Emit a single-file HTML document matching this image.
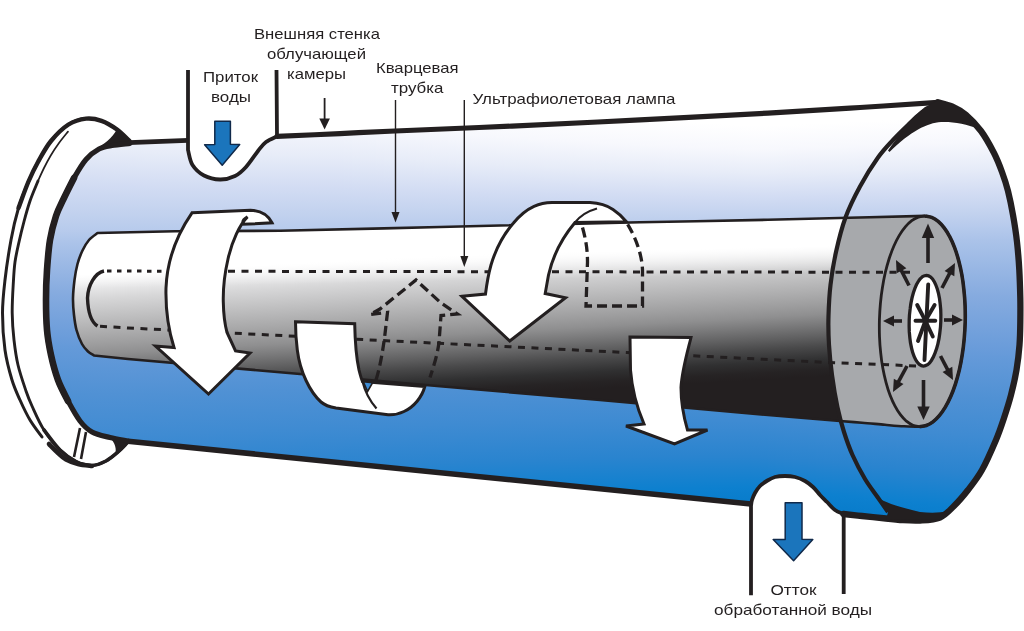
<!DOCTYPE html>
<html><head><meta charset="utf-8"><title>UV</title>
<style>html,body{margin:0;padding:0;background:#fff;}svg{display:block}</style></head>
<body><div style="will-change:transform;width:1024px;height:631px"><svg width="1024" height="631" viewBox="0 0 1024 631">
<defs>
<linearGradient id="gb" x1="0" y1="0" x2="0" y2="1">
<stop offset="0.0000" stop-color="#ffffff"/>
<stop offset="0.0400" stop-color="#ffffff"/>
<stop offset="0.1000" stop-color="#f7f8fd"/>
<stop offset="0.1600" stop-color="#e7ecf8"/>
<stop offset="0.2200" stop-color="#d2dcf3"/>
<stop offset="0.2700" stop-color="#c1d1ee"/>
<stop offset="0.3000" stop-color="#b6caec"/>
<stop offset="0.3300" stop-color="#abc3e9"/>
<stop offset="0.4600" stop-color="#86abdf"/>
<stop offset="0.5800" stop-color="#6a9cda"/>
<stop offset="0.6000" stop-color="#659ad9"/>
<stop offset="0.7000" stop-color="#5091d4"/>
<stop offset="0.7900" stop-color="#3f8bd2"/>
<stop offset="0.8800" stop-color="#2a84cf"/>
<stop offset="0.9600" stop-color="#0d80cf"/>
<stop offset="1.0000" stop-color="#087ccb"/>
</linearGradient>
<linearGradient id="gbt" x1="0" y1="0" x2="0" y2="1">
<stop offset="0.0000" stop-color="#ffffff"/>
<stop offset="0.1333" stop-color="#ffffff"/>
<stop offset="0.3333" stop-color="#f7f8fd"/>
<stop offset="0.5333" stop-color="#e7ecf8"/>
<stop offset="0.7333" stop-color="#d2dcf3"/>
<stop offset="0.9000" stop-color="#c1d1ee"/>
<stop offset="1.0000" stop-color="#b6caec"/>
</linearGradient>
<linearGradient id="gbm" x1="0" y1="0" x2="0" y2="1">
<stop offset="0.0000" stop-color="#b6caec"/>
<stop offset="0.1000" stop-color="#abc3e9"/>
<stop offset="0.5333" stop-color="#86abdf"/>
<stop offset="0.9333" stop-color="#6a9cda"/>
<stop offset="1.0000" stop-color="#659ad9"/>
</linearGradient>
<linearGradient id="gbb" x1="0" y1="0" x2="0" y2="1">
<stop offset="0.0000" stop-color="#659ad9"/>
<stop offset="0.2500" stop-color="#5091d4"/>
<stop offset="0.4750" stop-color="#3f8bd2"/>
<stop offset="0.7000" stop-color="#2a84cf"/>
<stop offset="0.9000" stop-color="#0d80cf"/>
<stop offset="1.0000" stop-color="#087ccb"/>
</linearGradient>
<linearGradient id="gw" gradientUnits="userSpaceOnUse" x1="97.5" y1="233" x2="98.77" y2="293">
<stop offset="0" stop-color="#fff" stop-opacity="1"/>
<stop offset="0.48" stop-color="#fff" stop-opacity="1"/>
<stop offset="0.92" stop-color="#fff" stop-opacity="0"/>
</linearGradient>
<clipPath id="cb"><path d="M130.0,143.3 L188.0,140.5 C188.0,142.1 187.2,145.9 188.0,150.0 C188.8,154.1 189.8,160.8 192.5,165.0 C195.2,169.2 199.4,173.1 204.0,175.5 C208.6,177.9 214.8,179.4 220.0,179.5 C225.2,179.6 230.7,178.1 235.0,176.0 C239.3,173.9 242.2,171.2 246.0,167.0 C249.8,162.8 254.7,155.2 258.0,151.0 C261.3,146.8 262.8,144.4 266.0,142.0 C269.2,139.6 275.2,137.2 277.0,136.3 C287.5,135.9 320.3,134.5 340.0,133.6 C359.7,132.7 366.3,132.2 395.0,131.0 C423.7,129.8 471.2,127.9 512.0,126.1 C552.8,124.2 597.3,122.1 640.0,119.9 C682.7,117.7 731.3,115.2 768.0,113.1 C804.7,111.0 831.7,109.3 860.0,107.5 C888.3,105.7 925.0,103.2 938.0,102.3 C940.3,103.0 947.3,104.4 952.0,106.5 C956.7,108.6 961.2,110.9 966.0,115.0 C970.8,119.1 976.3,124.7 981.0,131.0 C985.7,137.3 990.5,146.2 994.0,153.0 C997.5,159.8 999.7,165.7 1002.0,172.0 C1004.3,178.3 1006.2,183.8 1008.0,191.0 C1009.8,198.2 1011.5,206.5 1013.0,215.0 C1014.5,223.5 1016.0,232.8 1017.0,242.0 C1018.0,251.2 1018.8,260.7 1019.3,270.0 C1019.8,279.3 1020.1,289.3 1020.3,298.0 C1020.5,306.7 1020.4,314.2 1020.3,322.0 C1020.2,329.8 1020.1,337.0 1019.5,345.0 C1018.9,353.0 1017.9,361.7 1016.5,370.0 C1015.1,378.3 1013.1,387.0 1011.0,395.0 C1008.9,403.0 1006.5,410.5 1004.0,418.0 C1001.5,425.5 999.7,431.3 996.0,440.0 C992.3,448.7 986.7,461.7 982.0,470.0 C977.3,478.3 972.7,484.0 968.0,490.0 C963.3,496.0 958.7,501.4 954.0,506.0 C949.3,510.6 945.7,515.1 940.0,517.5 C934.3,519.9 926.7,520.1 920.0,520.5 C913.3,520.9 905.7,520.3 900.0,520.0 C894.3,519.7 892.3,519.2 886.0,518.5 C879.7,517.8 869.1,516.8 862.0,516.0 C854.9,515.2 846.6,514.3 843.5,514.0 C842.1,513.3 837.8,512.0 835.0,510.0 C832.2,508.0 829.5,504.5 827.0,502.0 C824.5,499.5 822.3,497.5 820.0,495.0 C817.7,492.5 815.5,489.3 813.0,487.0 C810.5,484.7 808.0,482.7 805.0,481.0 C802.0,479.3 798.3,477.8 795.0,477.0 C791.7,476.2 788.3,476.0 785.0,476.0 C781.7,476.0 777.9,476.2 775.0,477.0 C772.1,477.8 770.0,479.0 767.5,480.5 C765.0,482.0 762.1,483.9 760.0,486.0 C757.9,488.1 756.3,490.7 755.0,493.0 C753.7,495.3 752.7,497.8 752.0,500.0 C751.3,502.2 751.2,505.0 751.0,506.0 L751.0,503.5 L128.0,441.0 C125.0,440.4 116.0,439.0 110.0,437.5 C104.0,436.0 97.0,434.8 92.0,432.0 C87.0,429.2 84.0,426.2 80.0,421.0 C76.0,415.8 71.7,407.8 68.0,401.0 C64.3,394.2 60.8,387.7 58.0,380.0 C55.2,372.3 52.8,363.3 51.0,355.0 C49.2,346.7 47.8,339.2 47.0,330.0 C46.2,320.8 46.0,310.0 46.0,300.0 C46.0,290.0 46.3,280.0 47.0,270.0 C47.7,260.0 48.5,249.0 50.0,240.0 C51.5,231.0 53.8,222.8 56.0,216.0 C58.2,209.2 60.5,205.3 63.5,199.0 C66.5,192.7 70.2,184.6 74.0,178.0 C77.8,171.4 81.8,164.3 86.0,159.5 C90.2,154.7 94.7,151.3 99.0,149.0 C103.3,146.7 106.8,146.4 112.0,145.5 C117.2,144.6 127.0,143.7 130.0,143.3 Z"/></clipPath>
<linearGradient id="gt" gradientUnits="userSpaceOnUse" x1="500" y1="230" x2="511" y2="430">
<stop offset="0" stop-color="#ffffff"/>
<stop offset="0.110" stop-color="#ffffff"/>
<stop offset="0.169" stop-color="#e9e9ea"/>
<stop offset="0.229" stop-color="#d7d7d8"/>
<stop offset="0.289" stop-color="#c8c8c9"/>
<stop offset="0.349" stop-color="#b9b9ba"/>
<stop offset="0.409" stop-color="#aaaaab"/>
<stop offset="0.459" stop-color="#9d9d9e"/>
<stop offset="0.508" stop-color="#8f8f90"/>
<stop offset="0.558" stop-color="#7a7a7b"/>
<stop offset="0.618" stop-color="#606061"/>
<stop offset="0.668" stop-color="#49494a"/>
<stop offset="0.733" stop-color="#303031"/>
<stop offset="0.783" stop-color="#262324"/>
<stop offset="0.818" stop-color="#231f20"/>
<stop offset="1" stop-color="#231f20"/>
</linearGradient>
</defs>
<rect width="1024" height="631" fill="#fff"/>
<!-- flange -->
<path d="M129.5,141.0 C127.4,139.1 121.7,132.9 117.0,129.5 C112.3,126.1 106.7,122.6 101.5,120.8 C96.3,119.0 91.5,118.0 86.0,118.6 C80.5,119.2 74.3,120.8 68.5,124.5 C62.7,128.2 56.1,134.8 51.0,141.0 C45.9,147.2 41.8,155.2 38.0,162.0 C34.2,168.8 31.8,173.8 28.5,181.5 C25.2,189.2 21.4,198.2 18.5,208.0 C15.6,217.8 13.2,228.0 11.0,240.0 C8.8,252.0 6.4,267.8 5.0,280.0 C3.6,292.2 2.5,301.3 2.5,313.0 C2.5,324.7 3.4,338.8 5.0,350.0 C6.6,361.2 9.5,371.7 12.0,380.0 C14.5,388.3 17.0,393.3 20.0,400.0 C23.0,406.7 26.3,413.8 30.0,420.0 C33.7,426.2 40.0,434.2 42.0,437.0" fill="none" stroke="#231f20" stroke-width="3" stroke-linecap="round"/>
<path d="M129.5,141.0 C127.4,139.1 121.7,132.9 117.0,129.5 C112.3,126.1 106.7,122.6 101.5,120.8 C96.3,119.0 91.5,118.0 86.0,118.6 C80.5,119.2 74.3,120.8 68.5,124.5 C62.7,128.2 56.1,134.8 51.0,141.0 C45.9,147.2 41.8,155.2 38.0,162.0 C34.2,168.8 31.8,173.8 28.5,181.5 C25.2,189.2 20.2,203.6 18.5,208.0" fill="none" stroke="#231f20" stroke-width="4.4" stroke-linecap="round"/>
<path d="M68.0,131.6 C66.5,133.5 61.9,139.0 59.0,143.0 C56.1,147.0 53.1,151.5 50.6,155.7 C48.1,159.9 46.1,163.8 44.0,168.0 C41.9,172.2 39.0,178.8 38.0,181.0" fill="none" stroke="#231f20" stroke-width="1.7" stroke-linecap="round"/>
<path d="M38.0,181.0 C36.7,184.3 32.3,194.2 30.0,201.0 C27.7,207.8 25.8,214.7 24.0,221.5 C22.2,228.3 20.5,235.2 19.0,242.0 C17.5,248.8 16.0,254.8 15.0,262.0 C14.0,269.2 13.7,276.5 13.2,285.0 C12.7,293.5 12.1,303.8 12.2,313.0 C12.3,322.2 13.0,331.3 14.0,340.0 C15.0,348.7 16.0,356.5 18.0,365.0 C20.0,373.5 23.7,384.2 26.0,391.0 C28.3,397.8 29.0,399.5 32.0,406.0 C35.0,412.5 39.3,422.7 44.0,430.0 C48.7,437.3 54.7,444.8 60.0,450.0 C65.3,455.2 70.7,458.9 76.0,461.5 C81.3,464.1 87.0,465.6 92.0,465.5 C97.0,465.4 101.7,463.2 106.0,461.0 C110.3,458.8 114.5,455.0 118.0,452.0 C121.5,449.0 125.5,444.5 127.0,443.0" fill="none" stroke="#231f20" stroke-width="2.9" stroke-linecap="round"/>
<path d="M49.0,444.0 C50.5,445.5 55.2,450.4 58.0,453.0 C60.8,455.6 62.7,457.7 66.0,459.5 C69.3,461.3 73.7,462.9 78.0,464.0 C82.3,465.1 89.7,465.7 92.0,466.0" fill="none" stroke="#231f20" stroke-width="4.6" stroke-linecap="round"/>
<path d="M44.0,430.0 C46.7,433.3 54.7,444.8 60.0,450.0 C65.3,455.2 70.7,458.9 76.0,461.5 C81.3,464.1 87.0,465.6 92.0,465.5 C97.0,465.4 101.7,463.2 106.0,461.0 C110.3,458.8 114.5,455.0 118.0,452.0 C121.5,449.0 125.5,444.5 127.0,443.0" fill="none" stroke="#231f20" stroke-width="3.6" stroke-linecap="round"/>
<path d="M80,428 L74,457 M86,432 L81,459" stroke="#231f20" stroke-width="2.6" fill="none"/>
<path d="M117,129 L130,141 L130,144.5 L112,146.5 L96,149 C104,143.5 112,139 117,129 Z" fill="#231f20"/>
<path d="M110,437.5 L128,441 L124,447 C121,451 118,453 115,455 C117,449 115,443 110,437.5 Z" fill="#231f20"/>
<!-- body -->
<path d="M130.0,143.3 L188.0,140.5 C188.0,142.1 187.2,145.9 188.0,150.0 C188.8,154.1 189.8,160.8 192.5,165.0 C195.2,169.2 199.4,173.1 204.0,175.5 C208.6,177.9 214.8,179.4 220.0,179.5 C225.2,179.6 230.7,178.1 235.0,176.0 C239.3,173.9 242.2,171.2 246.0,167.0 C249.8,162.8 254.7,155.2 258.0,151.0 C261.3,146.8 262.8,144.4 266.0,142.0 C269.2,139.6 275.2,137.2 277.0,136.3 C287.5,135.9 320.3,134.5 340.0,133.6 C359.7,132.7 366.3,132.2 395.0,131.0 C423.7,129.8 471.2,127.9 512.0,126.1 C552.8,124.2 597.3,122.1 640.0,119.9 C682.7,117.7 731.3,115.2 768.0,113.1 C804.7,111.0 831.7,109.3 860.0,107.5 C888.3,105.7 925.0,103.2 938.0,102.3 C940.3,103.0 947.3,104.4 952.0,106.5 C956.7,108.6 961.2,110.9 966.0,115.0 C970.8,119.1 976.3,124.7 981.0,131.0 C985.7,137.3 990.5,146.2 994.0,153.0 C997.5,159.8 999.7,165.7 1002.0,172.0 C1004.3,178.3 1006.2,183.8 1008.0,191.0 C1009.8,198.2 1011.5,206.5 1013.0,215.0 C1014.5,223.5 1016.0,232.8 1017.0,242.0 C1018.0,251.2 1018.8,260.7 1019.3,270.0 C1019.8,279.3 1020.1,289.3 1020.3,298.0 C1020.5,306.7 1020.4,314.2 1020.3,322.0 C1020.2,329.8 1020.1,337.0 1019.5,345.0 C1018.9,353.0 1017.9,361.7 1016.5,370.0 C1015.1,378.3 1013.1,387.0 1011.0,395.0 C1008.9,403.0 1006.5,410.5 1004.0,418.0 C1001.5,425.5 999.7,431.3 996.0,440.0 C992.3,448.7 986.7,461.7 982.0,470.0 C977.3,478.3 972.7,484.0 968.0,490.0 C963.3,496.0 958.7,501.4 954.0,506.0 C949.3,510.6 945.7,515.1 940.0,517.5 C934.3,519.9 926.7,520.1 920.0,520.5 C913.3,520.9 905.7,520.3 900.0,520.0 C894.3,519.7 892.3,519.2 886.0,518.5 C879.7,517.8 869.1,516.8 862.0,516.0 C854.9,515.2 846.6,514.3 843.5,514.0 C842.1,513.3 837.8,512.0 835.0,510.0 C832.2,508.0 829.5,504.5 827.0,502.0 C824.5,499.5 822.3,497.5 820.0,495.0 C817.7,492.5 815.5,489.3 813.0,487.0 C810.5,484.7 808.0,482.7 805.0,481.0 C802.0,479.3 798.3,477.8 795.0,477.0 C791.7,476.2 788.3,476.0 785.0,476.0 C781.7,476.0 777.9,476.2 775.0,477.0 C772.1,477.8 770.0,479.0 767.5,480.5 C765.0,482.0 762.1,483.9 760.0,486.0 C757.9,488.1 756.3,490.7 755.0,493.0 C753.7,495.3 752.7,497.8 752.0,500.0 C751.3,502.2 751.2,505.0 751.0,506.0 L751.0,503.5 L128.0,441.0 C125.0,440.4 116.0,439.0 110.0,437.5 C104.0,436.0 97.0,434.8 92.0,432.0 C87.0,429.2 84.0,426.2 80.0,421.0 C76.0,415.8 71.7,407.8 68.0,401.0 C64.3,394.2 60.8,387.7 58.0,380.0 C55.2,372.3 52.8,363.3 51.0,355.0 C49.2,346.7 47.8,339.2 47.0,330.0 C46.2,320.8 46.0,310.0 46.0,300.0 C46.0,290.0 46.3,280.0 47.0,270.0 C47.7,260.0 48.5,249.0 50.0,240.0 C51.5,231.0 53.8,222.8 56.0,216.0 C58.2,209.2 60.5,205.3 63.5,199.0 C66.5,192.7 70.2,184.6 74.0,178.0 C77.8,171.4 81.8,164.3 86.0,159.5 C90.2,154.7 94.7,151.3 99.0,149.0 C103.3,146.7 106.8,146.4 112.0,145.5 C117.2,144.6 127.0,143.7 130.0,143.3 Z" fill="url(#gb)"/>
<g clip-path="url(#cb)" shape-rendering="crispEdges"><rect x="40" y="46.6" width="8" height="186.2" fill="url(#gbt)"/><rect x="40" y="232.2" width="8" height="112.6" fill="url(#gbm)"/><rect x="40" y="344.3" width="8" height="186.0" fill="url(#gbb)"/><rect x="48" y="47.9" width="8" height="184.9" fill="url(#gbt)"/><rect x="48" y="232.2" width="8" height="113.1" fill="url(#gbm)"/><rect x="48" y="344.7" width="8" height="186.8" fill="url(#gbb)"/><rect x="56" y="49.2" width="8" height="183.6" fill="url(#gbt)"/><rect x="56" y="232.2" width="8" height="113.6" fill="url(#gbm)"/><rect x="56" y="345.1" width="8" height="187.6" fill="url(#gbb)"/><rect x="64" y="50.4" width="8" height="182.3" fill="url(#gbt)"/><rect x="64" y="232.1" width="8" height="114.0" fill="url(#gbm)"/><rect x="64" y="345.5" width="8" height="188.4" fill="url(#gbb)"/><rect x="72" y="51.6" width="8" height="181.0" fill="url(#gbt)"/><rect x="72" y="232.1" width="8" height="114.5" fill="url(#gbm)"/><rect x="72" y="346.0" width="8" height="189.2" fill="url(#gbb)"/><rect x="80" y="52.8" width="8" height="179.8" fill="url(#gbt)"/><rect x="80" y="232.0" width="8" height="115.0" fill="url(#gbm)"/><rect x="80" y="346.4" width="8" height="190.0" fill="url(#gbb)"/><rect x="88" y="54.0" width="8" height="178.6" fill="url(#gbt)"/><rect x="88" y="232.0" width="8" height="115.4" fill="url(#gbm)"/><rect x="88" y="346.8" width="8" height="190.7" fill="url(#gbb)"/><rect x="96" y="55.1" width="8" height="177.4" fill="url(#gbt)"/><rect x="96" y="231.9" width="8" height="115.9" fill="url(#gbm)"/><rect x="96" y="347.2" width="8" height="190.5" fill="url(#gbb)"/><rect x="104" y="56.2" width="8" height="176.3" fill="url(#gbt)"/><rect x="104" y="231.9" width="8" height="116.4" fill="url(#gbm)"/><rect x="104" y="347.7" width="8" height="188.8" fill="url(#gbb)"/><rect x="112" y="57.3" width="8" height="175.1" fill="url(#gbt)"/><rect x="112" y="231.8" width="8" height="116.9" fill="url(#gbm)"/><rect x="112" y="348.1" width="8" height="187.0" fill="url(#gbb)"/><rect x="120" y="58.4" width="8" height="174.0" fill="url(#gbt)"/><rect x="120" y="231.8" width="8" height="117.3" fill="url(#gbm)"/><rect x="120" y="348.5" width="8" height="185.4" fill="url(#gbb)"/><rect x="128" y="59.4" width="8" height="172.9" fill="url(#gbt)"/><rect x="128" y="231.7" width="8" height="117.6" fill="url(#gbm)"/><rect x="128" y="348.8" width="8" height="184.0" fill="url(#gbb)"/><rect x="136" y="60.4" width="8" height="171.9" fill="url(#gbt)"/><rect x="136" y="231.7" width="8" height="117.5" fill="url(#gbm)"/><rect x="136" y="348.6" width="8" height="183.6" fill="url(#gbb)"/><rect x="144" y="61.4" width="8" height="170.8" fill="url(#gbt)"/><rect x="144" y="231.7" width="8" height="117.4" fill="url(#gbm)"/><rect x="144" y="348.4" width="8" height="183.2" fill="url(#gbb)"/><rect x="152" y="62.0" width="8" height="170.3" fill="url(#gbt)"/><rect x="152" y="231.6" width="8" height="117.2" fill="url(#gbm)"/><rect x="152" y="348.3" width="8" height="182.8" fill="url(#gbb)"/><rect x="160" y="62.3" width="8" height="169.8" fill="url(#gbt)"/><rect x="160" y="231.6" width="8" height="117.1" fill="url(#gbm)"/><rect x="160" y="348.1" width="8" height="182.4" fill="url(#gbb)"/><rect x="168" y="62.7" width="8" height="169.4" fill="url(#gbt)"/><rect x="168" y="231.5" width="8" height="117.0" fill="url(#gbm)"/><rect x="168" y="347.9" width="8" height="182.1" fill="url(#gbb)"/><rect x="176" y="63.1" width="8" height="169.0" fill="url(#gbt)"/><rect x="176" y="231.5" width="8" height="116.9" fill="url(#gbm)"/><rect x="176" y="347.7" width="8" height="181.7" fill="url(#gbb)"/><rect x="184" y="63.5" width="8" height="168.6" fill="url(#gbt)"/><rect x="184" y="231.4" width="8" height="116.7" fill="url(#gbm)"/><rect x="184" y="347.6" width="8" height="181.3" fill="url(#gbb)"/><rect x="192" y="63.8" width="8" height="168.1" fill="url(#gbt)"/><rect x="192" y="231.4" width="8" height="116.6" fill="url(#gbm)"/><rect x="192" y="347.4" width="8" height="181.0" fill="url(#gbb)"/><rect x="200" y="64.2" width="8" height="167.7" fill="url(#gbt)"/><rect x="200" y="231.3" width="8" height="116.5" fill="url(#gbm)"/><rect x="200" y="347.2" width="8" height="180.6" fill="url(#gbb)"/><rect x="208" y="64.6" width="8" height="167.3" fill="url(#gbt)"/><rect x="208" y="231.3" width="8" height="116.4" fill="url(#gbm)"/><rect x="208" y="347.1" width="8" height="180.3" fill="url(#gbb)"/><rect x="216" y="64.9" width="8" height="166.9" fill="url(#gbt)"/><rect x="216" y="231.3" width="8" height="116.2" fill="url(#gbm)"/><rect x="216" y="346.9" width="8" height="179.9" fill="url(#gbb)"/><rect x="224" y="65.3" width="8" height="166.5" fill="url(#gbt)"/><rect x="224" y="231.2" width="8" height="116.1" fill="url(#gbm)"/><rect x="224" y="346.7" width="8" height="179.6" fill="url(#gbb)"/><rect x="232" y="65.6" width="8" height="166.2" fill="url(#gbt)"/><rect x="232" y="231.2" width="8" height="116.0" fill="url(#gbm)"/><rect x="232" y="346.6" width="8" height="179.3" fill="url(#gbb)"/><rect x="240" y="66.0" width="8" height="165.8" fill="url(#gbt)"/><rect x="240" y="231.1" width="8" height="115.9" fill="url(#gbm)"/><rect x="240" y="346.4" width="8" height="178.9" fill="url(#gbb)"/><rect x="248" y="66.3" width="8" height="165.4" fill="url(#gbt)"/><rect x="248" y="231.1" width="8" height="115.8" fill="url(#gbm)"/><rect x="248" y="346.2" width="8" height="178.6" fill="url(#gbb)"/><rect x="256" y="66.6" width="8" height="165.0" fill="url(#gbt)"/><rect x="256" y="231.0" width="8" height="115.6" fill="url(#gbm)"/><rect x="256" y="346.1" width="8" height="178.3" fill="url(#gbb)"/><rect x="264" y="66.9" width="8" height="164.6" fill="url(#gbt)"/><rect x="264" y="231.0" width="8" height="115.5" fill="url(#gbm)"/><rect x="264" y="345.9" width="8" height="178.0" fill="url(#gbb)"/><rect x="272" y="67.3" width="8" height="164.3" fill="url(#gbt)"/><rect x="272" y="230.9" width="8" height="115.4" fill="url(#gbm)"/><rect x="272" y="345.8" width="8" height="177.7" fill="url(#gbb)"/><rect x="280" y="67.6" width="8" height="163.9" fill="url(#gbt)"/><rect x="280" y="230.9" width="8" height="115.3" fill="url(#gbm)"/><rect x="280" y="345.6" width="8" height="177.4" fill="url(#gbb)"/><rect x="288" y="67.9" width="8" height="163.6" fill="url(#gbt)"/><rect x="288" y="230.9" width="8" height="115.2" fill="url(#gbm)"/><rect x="288" y="345.4" width="8" height="177.1" fill="url(#gbb)"/><rect x="296" y="68.2" width="8" height="163.2" fill="url(#gbt)"/><rect x="296" y="230.8" width="8" height="115.1" fill="url(#gbm)"/><rect x="296" y="345.3" width="8" height="176.8" fill="url(#gbb)"/><rect x="304" y="68.5" width="8" height="162.9" fill="url(#gbt)"/><rect x="304" y="230.8" width="8" height="115.0" fill="url(#gbm)"/><rect x="304" y="345.1" width="8" height="176.5" fill="url(#gbb)"/><rect x="312" y="68.8" width="8" height="162.5" fill="url(#gbt)"/><rect x="312" y="230.7" width="8" height="114.9" fill="url(#gbm)"/><rect x="312" y="345.0" width="8" height="176.2" fill="url(#gbb)"/><rect x="320" y="69.1" width="8" height="162.2" fill="url(#gbt)"/><rect x="320" y="230.7" width="8" height="114.7" fill="url(#gbm)"/><rect x="320" y="344.8" width="8" height="176.0" fill="url(#gbb)"/><rect x="328" y="69.4" width="8" height="161.8" fill="url(#gbt)"/><rect x="328" y="230.6" width="8" height="114.6" fill="url(#gbm)"/><rect x="328" y="344.7" width="8" height="175.7" fill="url(#gbb)"/><rect x="336" y="69.7" width="8" height="161.5" fill="url(#gbt)"/><rect x="336" y="230.6" width="8" height="114.5" fill="url(#gbm)"/><rect x="336" y="344.5" width="8" height="175.4" fill="url(#gbb)"/><rect x="344" y="70.9" width="8" height="160.2" fill="url(#gbt)"/><rect x="344" y="230.5" width="8" height="114.4" fill="url(#gbm)"/><rect x="344" y="344.4" width="8" height="175.1" fill="url(#gbb)"/><rect x="352" y="72.2" width="8" height="158.9" fill="url(#gbt)"/><rect x="352" y="230.5" width="8" height="114.3" fill="url(#gbm)"/><rect x="352" y="344.2" width="8" height="174.9" fill="url(#gbb)"/><rect x="360" y="73.4" width="8" height="157.7" fill="url(#gbt)"/><rect x="360" y="230.4" width="8" height="114.2" fill="url(#gbm)"/><rect x="360" y="344.1" width="8" height="174.6" fill="url(#gbb)"/><rect x="368" y="74.5" width="8" height="156.5" fill="url(#gbt)"/><rect x="368" y="230.4" width="8" height="114.1" fill="url(#gbm)"/><rect x="368" y="343.9" width="8" height="174.4" fill="url(#gbb)"/><rect x="376" y="75.7" width="8" height="155.3" fill="url(#gbt)"/><rect x="376" y="230.4" width="8" height="114.0" fill="url(#gbm)"/><rect x="376" y="343.8" width="8" height="174.1" fill="url(#gbb)"/><rect x="384" y="76.8" width="8" height="154.1" fill="url(#gbt)"/><rect x="384" y="230.3" width="8" height="113.9" fill="url(#gbm)"/><rect x="384" y="343.6" width="8" height="173.9" fill="url(#gbb)"/><rect x="392" y="77.9" width="8" height="153.0" fill="url(#gbt)"/><rect x="392" y="230.3" width="8" height="113.8" fill="url(#gbm)"/><rect x="392" y="343.5" width="8" height="173.6" fill="url(#gbb)"/><rect x="400" y="79.0" width="8" height="151.9" fill="url(#gbt)"/><rect x="400" y="230.2" width="8" height="113.7" fill="url(#gbm)"/><rect x="400" y="343.3" width="8" height="173.4" fill="url(#gbb)"/><rect x="408" y="80.0" width="8" height="150.8" fill="url(#gbt)"/><rect x="408" y="230.2" width="8" height="113.6" fill="url(#gbm)"/><rect x="408" y="343.2" width="8" height="173.1" fill="url(#gbb)"/><rect x="416" y="81.0" width="8" height="149.7" fill="url(#gbt)"/><rect x="416" y="230.1" width="8" height="113.5" fill="url(#gbm)"/><rect x="416" y="343.1" width="8" height="172.9" fill="url(#gbb)"/><rect x="424" y="82.0" width="8" height="148.7" fill="url(#gbt)"/><rect x="424" y="230.1" width="8" height="113.4" fill="url(#gbm)"/><rect x="424" y="342.9" width="8" height="172.6" fill="url(#gbb)"/><rect x="432" y="83.0" width="8" height="147.6" fill="url(#gbt)"/><rect x="432" y="230.0" width="8" height="113.3" fill="url(#gbm)"/><rect x="432" y="342.8" width="8" height="172.4" fill="url(#gbb)"/><rect x="440" y="84.0" width="8" height="146.6" fill="url(#gbt)"/><rect x="440" y="230.0" width="8" height="113.2" fill="url(#gbm)"/><rect x="440" y="342.6" width="8" height="172.2" fill="url(#gbb)"/><rect x="448" y="84.9" width="8" height="145.7" fill="url(#gbt)"/><rect x="448" y="230.0" width="8" height="113.1" fill="url(#gbm)"/><rect x="448" y="342.5" width="8" height="172.0" fill="url(#gbb)"/><rect x="456" y="85.8" width="8" height="144.7" fill="url(#gbt)"/><rect x="456" y="229.9" width="8" height="113.1" fill="url(#gbm)"/><rect x="456" y="342.4" width="8" height="171.7" fill="url(#gbb)"/><rect x="464" y="86.7" width="8" height="143.8" fill="url(#gbt)"/><rect x="464" y="229.9" width="8" height="113.0" fill="url(#gbm)"/><rect x="464" y="342.2" width="8" height="171.5" fill="url(#gbb)"/><rect x="472" y="87.6" width="8" height="142.8" fill="url(#gbt)"/><rect x="472" y="229.8" width="8" height="112.9" fill="url(#gbm)"/><rect x="472" y="342.1" width="8" height="171.3" fill="url(#gbb)"/><rect x="480" y="88.5" width="8" height="141.9" fill="url(#gbt)"/><rect x="480" y="229.8" width="8" height="112.8" fill="url(#gbm)"/><rect x="480" y="342.0" width="8" height="171.1" fill="url(#gbb)"/><rect x="488" y="89.3" width="8" height="141.0" fill="url(#gbt)"/><rect x="488" y="229.7" width="8" height="112.7" fill="url(#gbm)"/><rect x="488" y="341.8" width="8" height="170.9" fill="url(#gbb)"/><rect x="496" y="90.1" width="8" height="140.2" fill="url(#gbt)"/><rect x="496" y="229.7" width="8" height="112.6" fill="url(#gbm)"/><rect x="496" y="341.7" width="8" height="170.7" fill="url(#gbb)"/><rect x="504" y="90.9" width="8" height="139.3" fill="url(#gbt)"/><rect x="504" y="229.6" width="8" height="112.5" fill="url(#gbm)"/><rect x="504" y="341.6" width="8" height="170.5" fill="url(#gbb)"/><rect x="512" y="91.7" width="8" height="138.5" fill="url(#gbt)"/><rect x="512" y="229.6" width="8" height="112.4" fill="url(#gbm)"/><rect x="512" y="341.4" width="8" height="170.2" fill="url(#gbb)"/><rect x="520" y="92.5" width="8" height="137.6" fill="url(#gbt)"/><rect x="520" y="229.5" width="8" height="112.3" fill="url(#gbm)"/><rect x="520" y="341.3" width="8" height="170.0" fill="url(#gbb)"/><rect x="528" y="93.3" width="8" height="136.8" fill="url(#gbt)"/><rect x="528" y="229.5" width="8" height="112.3" fill="url(#gbm)"/><rect x="528" y="341.2" width="8" height="169.8" fill="url(#gbb)"/><rect x="536" y="94.0" width="8" height="136.0" fill="url(#gbt)"/><rect x="536" y="229.5" width="8" height="112.2" fill="url(#gbm)"/><rect x="536" y="341.0" width="8" height="169.6" fill="url(#gbb)"/><rect x="544" y="94.8" width="8" height="135.3" fill="url(#gbt)"/><rect x="544" y="229.4" width="8" height="112.1" fill="url(#gbm)"/><rect x="544" y="340.9" width="8" height="169.4" fill="url(#gbb)"/><rect x="552" y="95.5" width="8" height="134.5" fill="url(#gbt)"/><rect x="552" y="229.4" width="8" height="112.0" fill="url(#gbm)"/><rect x="552" y="340.8" width="8" height="169.3" fill="url(#gbb)"/><rect x="560" y="96.2" width="8" height="133.7" fill="url(#gbt)"/><rect x="560" y="229.3" width="8" height="111.9" fill="url(#gbm)"/><rect x="560" y="340.6" width="8" height="169.1" fill="url(#gbb)"/><rect x="568" y="96.9" width="8" height="133.0" fill="url(#gbt)"/><rect x="568" y="229.3" width="8" height="111.8" fill="url(#gbm)"/><rect x="568" y="340.5" width="8" height="168.9" fill="url(#gbb)"/><rect x="576" y="97.6" width="8" height="132.3" fill="url(#gbt)"/><rect x="576" y="229.2" width="8" height="111.8" fill="url(#gbm)"/><rect x="576" y="340.4" width="8" height="168.7" fill="url(#gbb)"/><rect x="584" y="98.2" width="8" height="131.6" fill="url(#gbt)"/><rect x="584" y="229.2" width="8" height="111.7" fill="url(#gbm)"/><rect x="584" y="340.3" width="8" height="168.5" fill="url(#gbb)"/><rect x="592" y="98.9" width="8" height="130.9" fill="url(#gbt)"/><rect x="592" y="229.1" width="8" height="111.6" fill="url(#gbm)"/><rect x="592" y="340.1" width="8" height="168.3" fill="url(#gbb)"/><rect x="600" y="99.5" width="8" height="130.2" fill="url(#gbt)"/><rect x="600" y="229.1" width="8" height="111.7" fill="url(#gbm)"/><rect x="600" y="340.2" width="8" height="167.9" fill="url(#gbb)"/><rect x="608" y="100.2" width="8" height="129.5" fill="url(#gbt)"/><rect x="608" y="229.1" width="8" height="112.1" fill="url(#gbm)"/><rect x="608" y="340.5" width="8" height="167.2" fill="url(#gbb)"/><rect x="616" y="100.8" width="8" height="128.8" fill="url(#gbt)"/><rect x="616" y="229.0" width="8" height="112.5" fill="url(#gbm)"/><rect x="616" y="340.9" width="8" height="166.5" fill="url(#gbb)"/><rect x="624" y="101.4" width="8" height="128.2" fill="url(#gbt)"/><rect x="624" y="229.0" width="8" height="112.8" fill="url(#gbm)"/><rect x="624" y="341.2" width="8" height="165.9" fill="url(#gbb)"/><rect x="632" y="102.0" width="8" height="127.5" fill="url(#gbt)"/><rect x="632" y="228.9" width="8" height="113.2" fill="url(#gbm)"/><rect x="632" y="341.5" width="8" height="165.2" fill="url(#gbb)"/><rect x="640" y="102.6" width="8" height="126.9" fill="url(#gbt)"/><rect x="640" y="228.9" width="8" height="113.5" fill="url(#gbm)"/><rect x="640" y="341.8" width="8" height="164.6" fill="url(#gbb)"/><rect x="648" y="103.1" width="8" height="126.3" fill="url(#gbt)"/><rect x="648" y="228.8" width="8" height="113.9" fill="url(#gbm)"/><rect x="648" y="342.1" width="8" height="164.0" fill="url(#gbb)"/><rect x="656" y="103.7" width="8" height="125.7" fill="url(#gbt)"/><rect x="656" y="228.8" width="8" height="114.3" fill="url(#gbm)"/><rect x="656" y="342.4" width="8" height="163.4" fill="url(#gbb)"/><rect x="664" y="104.3" width="8" height="125.1" fill="url(#gbt)"/><rect x="664" y="228.7" width="8" height="114.6" fill="url(#gbm)"/><rect x="664" y="342.8" width="8" height="162.8" fill="url(#gbb)"/><rect x="672" y="104.8" width="8" height="124.5" fill="url(#gbt)"/><rect x="672" y="228.7" width="8" height="115.0" fill="url(#gbm)"/><rect x="672" y="343.1" width="8" height="162.2" fill="url(#gbb)"/><rect x="680" y="105.4" width="8" height="123.9" fill="url(#gbt)"/><rect x="680" y="228.7" width="8" height="115.3" fill="url(#gbm)"/><rect x="680" y="343.4" width="8" height="161.6" fill="url(#gbb)"/><rect x="688" y="105.9" width="8" height="123.3" fill="url(#gbt)"/><rect x="688" y="228.6" width="8" height="115.7" fill="url(#gbm)"/><rect x="688" y="343.7" width="8" height="161.0" fill="url(#gbb)"/><rect x="696" y="106.4" width="8" height="122.8" fill="url(#gbt)"/><rect x="696" y="228.6" width="8" height="116.1" fill="url(#gbm)"/><rect x="696" y="344.0" width="8" height="160.4" fill="url(#gbb)"/><rect x="704" y="106.9" width="8" height="122.2" fill="url(#gbt)"/><rect x="704" y="228.5" width="8" height="116.4" fill="url(#gbm)"/><rect x="704" y="344.3" width="8" height="159.8" fill="url(#gbb)"/><rect x="712" y="107.4" width="8" height="121.6" fill="url(#gbt)"/><rect x="712" y="228.5" width="8" height="116.8" fill="url(#gbm)"/><rect x="712" y="344.7" width="8" height="159.3" fill="url(#gbb)"/><rect x="720" y="107.9" width="8" height="121.1" fill="url(#gbt)"/><rect x="720" y="228.4" width="8" height="117.1" fill="url(#gbm)"/><rect x="720" y="345.0" width="8" height="158.7" fill="url(#gbb)"/><rect x="728" y="108.4" width="8" height="120.6" fill="url(#gbt)"/><rect x="728" y="228.4" width="8" height="117.5" fill="url(#gbm)"/><rect x="728" y="345.3" width="8" height="158.2" fill="url(#gbb)"/><rect x="736" y="108.9" width="8" height="120.0" fill="url(#gbt)"/><rect x="736" y="228.3" width="8" height="117.9" fill="url(#gbm)"/><rect x="736" y="345.6" width="8" height="157.6" fill="url(#gbb)"/><rect x="744" y="109.4" width="8" height="119.5" fill="url(#gbt)"/><rect x="744" y="228.3" width="8" height="118.2" fill="url(#gbm)"/><rect x="744" y="345.9" width="8" height="157.1" fill="url(#gbb)"/><rect x="752" y="109.8" width="8" height="119.0" fill="url(#gbt)"/><rect x="752" y="228.2" width="8" height="118.6" fill="url(#gbm)"/><rect x="752" y="346.2" width="8" height="157.3" fill="url(#gbb)"/><rect x="760" y="109.9" width="8" height="118.9" fill="url(#gbt)"/><rect x="760" y="228.2" width="8" height="118.9" fill="url(#gbm)"/><rect x="760" y="346.5" width="8" height="157.8" fill="url(#gbb)"/><rect x="768" y="109.5" width="8" height="119.3" fill="url(#gbt)"/><rect x="768" y="228.2" width="8" height="119.3" fill="url(#gbm)"/><rect x="768" y="346.9" width="8" height="158.3" fill="url(#gbb)"/><rect x="776" y="109.0" width="8" height="119.7" fill="url(#gbt)"/><rect x="776" y="228.1" width="8" height="119.7" fill="url(#gbm)"/><rect x="776" y="347.2" width="8" height="158.8" fill="url(#gbb)"/><rect x="784" y="108.6" width="8" height="120.0" fill="url(#gbt)"/><rect x="784" y="228.1" width="8" height="120.0" fill="url(#gbm)"/><rect x="784" y="347.5" width="8" height="159.2" fill="url(#gbb)"/><rect x="792" y="108.2" width="8" height="120.4" fill="url(#gbt)"/><rect x="792" y="228.0" width="8" height="120.4" fill="url(#gbm)"/><rect x="792" y="347.8" width="8" height="159.7" fill="url(#gbb)"/><rect x="800" y="107.8" width="8" height="120.8" fill="url(#gbt)"/><rect x="800" y="228.0" width="8" height="120.8" fill="url(#gbm)"/><rect x="800" y="348.1" width="8" height="160.2" fill="url(#gbb)"/><rect x="808" y="107.4" width="8" height="121.1" fill="url(#gbt)"/><rect x="808" y="227.9" width="8" height="121.1" fill="url(#gbm)"/><rect x="808" y="348.4" width="8" height="160.7" fill="url(#gbb)"/><rect x="816" y="107.0" width="8" height="121.5" fill="url(#gbt)"/><rect x="816" y="227.9" width="8" height="121.5" fill="url(#gbm)"/><rect x="816" y="348.8" width="8" height="161.2" fill="url(#gbb)"/><rect x="824" y="106.6" width="8" height="121.8" fill="url(#gbt)"/><rect x="824" y="227.8" width="8" height="121.8" fill="url(#gbm)"/><rect x="824" y="349.1" width="8" height="161.6" fill="url(#gbb)"/><rect x="832" y="106.2" width="8" height="122.2" fill="url(#gbt)"/><rect x="832" y="227.8" width="8" height="122.2" fill="url(#gbm)"/><rect x="832" y="349.4" width="8" height="162.1" fill="url(#gbb)"/><rect x="840" y="105.8" width="8" height="122.6" fill="url(#gbt)"/><rect x="840" y="227.8" width="8" height="122.6" fill="url(#gbm)"/><rect x="840" y="349.7" width="8" height="162.6" fill="url(#gbb)"/><rect x="848" y="105.4" width="8" height="122.9" fill="url(#gbt)"/><rect x="848" y="227.7" width="8" height="122.9" fill="url(#gbm)"/><rect x="848" y="350.0" width="8" height="163.1" fill="url(#gbb)"/><rect x="856" y="105.0" width="8" height="123.3" fill="url(#gbt)"/><rect x="856" y="227.7" width="8" height="123.3" fill="url(#gbm)"/><rect x="856" y="350.3" width="8" height="163.6" fill="url(#gbb)"/><rect x="864" y="104.6" width="8" height="123.6" fill="url(#gbt)"/><rect x="864" y="227.6" width="8" height="123.6" fill="url(#gbm)"/><rect x="864" y="350.7" width="8" height="164.0" fill="url(#gbb)"/><rect x="872" y="104.2" width="8" height="124.0" fill="url(#gbt)"/><rect x="872" y="227.6" width="8" height="124.0" fill="url(#gbm)"/><rect x="872" y="351.0" width="8" height="164.5" fill="url(#gbb)"/><rect x="880" y="103.8" width="8" height="124.4" fill="url(#gbt)"/><rect x="880" y="227.5" width="8" height="124.4" fill="url(#gbm)"/><rect x="880" y="351.3" width="8" height="165.0" fill="url(#gbb)"/><rect x="888" y="103.4" width="8" height="124.7" fill="url(#gbt)"/><rect x="888" y="227.5" width="8" height="124.7" fill="url(#gbm)"/><rect x="888" y="351.6" width="8" height="165.5" fill="url(#gbb)"/><rect x="896" y="103.0" width="8" height="125.1" fill="url(#gbt)"/><rect x="896" y="227.4" width="8" height="125.1" fill="url(#gbm)"/><rect x="896" y="351.9" width="8" height="166.0" fill="url(#gbb)"/><rect x="904" y="102.6" width="8" height="125.4" fill="url(#gbt)"/><rect x="904" y="227.4" width="8" height="125.4" fill="url(#gbm)"/><rect x="904" y="352.2" width="8" height="166.5" fill="url(#gbb)"/><rect x="912" y="102.1" width="8" height="125.8" fill="url(#gbt)"/><rect x="912" y="227.4" width="8" height="125.8" fill="url(#gbm)"/><rect x="912" y="352.6" width="8" height="166.9" fill="url(#gbb)"/><rect x="920" y="101.7" width="8" height="126.2" fill="url(#gbt)"/><rect x="920" y="227.3" width="8" height="126.2" fill="url(#gbm)"/><rect x="920" y="352.9" width="8" height="167.4" fill="url(#gbb)"/><rect x="928" y="101.3" width="8" height="126.5" fill="url(#gbt)"/><rect x="928" y="227.3" width="8" height="126.5" fill="url(#gbm)"/><rect x="928" y="353.2" width="8" height="167.9" fill="url(#gbb)"/><rect x="936" y="100.9" width="8" height="126.9" fill="url(#gbt)"/><rect x="936" y="227.2" width="8" height="126.9" fill="url(#gbm)"/><rect x="936" y="353.5" width="8" height="168.4" fill="url(#gbb)"/><rect x="944" y="100.5" width="8" height="127.2" fill="url(#gbt)"/><rect x="944" y="227.2" width="8" height="127.2" fill="url(#gbm)"/><rect x="944" y="353.8" width="8" height="168.9" fill="url(#gbb)"/><rect x="952" y="100.1" width="8" height="127.6" fill="url(#gbt)"/><rect x="952" y="227.1" width="8" height="127.6" fill="url(#gbm)"/><rect x="952" y="354.1" width="8" height="169.3" fill="url(#gbb)"/><rect x="960" y="99.7" width="8" height="128.0" fill="url(#gbt)"/><rect x="960" y="227.1" width="8" height="128.0" fill="url(#gbm)"/><rect x="960" y="354.4" width="8" height="169.8" fill="url(#gbb)"/><rect x="968" y="99.3" width="8" height="128.3" fill="url(#gbt)"/><rect x="968" y="227.0" width="8" height="128.3" fill="url(#gbm)"/><rect x="968" y="354.8" width="8" height="170.3" fill="url(#gbb)"/><rect x="976" y="98.9" width="8" height="128.7" fill="url(#gbt)"/><rect x="976" y="227.0" width="8" height="128.7" fill="url(#gbm)"/><rect x="976" y="355.1" width="8" height="170.8" fill="url(#gbb)"/><rect x="984" y="98.5" width="8" height="129.0" fill="url(#gbt)"/><rect x="984" y="226.9" width="8" height="129.0" fill="url(#gbm)"/><rect x="984" y="355.4" width="8" height="171.3" fill="url(#gbb)"/><rect x="992" y="98.1" width="8" height="129.4" fill="url(#gbt)"/><rect x="992" y="226.9" width="8" height="129.4" fill="url(#gbm)"/><rect x="992" y="355.7" width="8" height="171.7" fill="url(#gbb)"/><rect x="1000" y="97.7" width="8" height="129.8" fill="url(#gbt)"/><rect x="1000" y="226.9" width="8" height="129.8" fill="url(#gbm)"/><rect x="1000" y="356.0" width="8" height="172.2" fill="url(#gbb)"/><rect x="1008" y="97.3" width="8" height="130.1" fill="url(#gbt)"/><rect x="1008" y="226.8" width="8" height="130.1" fill="url(#gbm)"/><rect x="1008" y="356.3" width="8" height="172.7" fill="url(#gbb)"/><rect x="1016" y="96.9" width="8" height="130.5" fill="url(#gbt)"/><rect x="1016" y="226.8" width="8" height="130.5" fill="url(#gbm)"/><rect x="1016" y="356.7" width="8" height="173.2" fill="url(#gbb)"/></g>
<!-- inlet pipe interior white + walls -->
<path d="M188,70 L188,150 C188.8,152.5 189.8,160.8 192.5,165.0 C195.2,169.2 199.4,173.1 204.0,175.5 C208.6,177.9 214.8,179.4 220.0,179.5 C225.2,179.6 230.7,178.1 235.0,176.0 C239.3,173.9 242.2,171.2 246.0,167.0 C249.8,162.8 254.7,155.2 258.0,151.0 C261.3,146.8 262.8,144.4 266.0,142.0 C269.2,139.6 275.2,137.2 277.0,136.3 L276.5,70" fill="none" stroke="#231f20" stroke-width="3.8"/>
<path d="M843.5,514.0 C842.1,513.3 837.8,512.0 835.0,510.0 C832.2,508.0 829.5,504.5 827.0,502.0 C824.5,499.5 822.3,497.5 820.0,495.0 C817.7,492.5 815.5,489.3 813.0,487.0 C810.5,484.7 808.0,482.7 805.0,481.0 C802.0,479.3 798.3,477.8 795.0,477.0 C791.7,476.2 788.3,476.0 785.0,476.0 C781.7,476.0 777.9,476.2 775.0,477.0 C772.1,477.8 770.0,479.0 767.5,480.5 C765.0,482.0 762.1,483.9 760.0,486.0 C757.9,488.1 756.3,490.7 755.0,493.0 C753.7,495.3 752.7,497.8 752.0,500.0 C751.3,502.2 751.2,505.0 751.0,506.0 L751,595.3 M843.7,514 L843.7,594" fill="none" stroke="#231f20" stroke-width="3.8"/>
<!-- tube -->
<path d="M97.5,233.0 L175.0,231.3 L280.0,230.8 L384.0,228.4 L440.0,227.0 L640.0,222.2 L696.0,221.3 L768.0,219.8 L860.0,217.5 L925.1,215.9 C926.2,216.2 929.5,216.5 931.7,217.4 C933.9,218.3 936.1,219.7 938.2,221.4 C940.3,223.2 942.3,225.4 944.2,227.9 C946.2,230.5 948.0,233.4 949.7,236.7 C951.5,240.0 953.1,243.7 954.6,247.6 C956.1,251.5 957.4,255.8 958.6,260.3 C959.8,264.8 960.9,269.5 961.8,274.5 C962.7,279.4 963.4,284.6 963.9,289.8 C964.5,295.1 964.9,300.5 965.1,305.9 C965.3,311.4 965.3,316.9 965.2,322.4 C965.0,327.9 964.7,333.5 964.2,338.9 C963.7,344.3 963.1,349.7 962.2,354.9 C961.4,360.1 960.4,365.3 959.3,370.1 C958.1,375.0 956.8,379.7 955.4,384.1 C953.9,388.6 952.4,392.8 950.7,396.6 C949.0,400.4 947.2,404.0 945.3,407.2 C943.4,410.4 941.4,413.2 939.3,415.7 C937.3,418.1 935.1,420.2 932.9,421.9 C930.8,423.5 928.5,424.7 926.3,425.5 C924.1,426.3 920.7,426.5 919.5,426.7 C917.0,426.6 909.8,426.6 904.0,426.3 C898.2,426.0 892.0,425.4 885.0,424.8 C878.0,424.2 869.5,423.3 862.0,422.7 C854.5,422.1 843.7,421.3 840.0,421.0 L768.0,415.0 L600.0,400.0 L440.0,386.3 L300.0,374.0 L128.0,359.0 L94.0,355.5 C93.0,354.8 90.0,353.4 88.0,351.5 C86.0,349.6 83.9,347.6 82.0,344.0 C80.1,340.4 77.8,334.8 76.5,330.0 C75.2,325.2 74.6,320.3 74.0,315.0 C73.4,309.7 72.9,303.8 73.0,298.0 C73.1,292.2 73.8,285.7 74.5,280.0 C75.2,274.3 76.2,268.9 77.5,264.0 C78.8,259.1 80.6,254.5 82.5,250.5 C84.4,246.5 86.5,242.9 89.0,240.0 C91.5,237.1 96.1,234.2 97.5,233.0 Z" fill="url(#gt)"/>
<path d="M97.5,233.0 L175.0,231.3 L280.0,230.8 L384.0,228.4 L440.0,227.0 L640.0,222.2 L696.0,221.3 L768.0,219.8 L860.0,217.5 L925.1,215.9 C926.2,216.2 929.5,216.5 931.7,217.4 C933.9,218.3 936.1,219.7 938.2,221.4 C940.3,223.2 942.3,225.4 944.2,227.9 C946.2,230.5 948.0,233.4 949.7,236.7 C951.5,240.0 953.1,243.7 954.6,247.6 C956.1,251.5 957.4,255.8 958.6,260.3 C959.8,264.8 960.9,269.5 961.8,274.5 C962.7,279.4 963.4,284.6 963.9,289.8 C964.5,295.1 964.9,300.5 965.1,305.9 C965.3,311.4 965.3,316.9 965.2,322.4 C965.0,327.9 964.7,333.5 964.2,338.9 C963.7,344.3 963.1,349.7 962.2,354.9 C961.4,360.1 960.4,365.3 959.3,370.1 C958.1,375.0 956.8,379.7 955.4,384.1 C953.9,388.6 952.4,392.8 950.7,396.6 C949.0,400.4 947.2,404.0 945.3,407.2 C943.4,410.4 941.4,413.2 939.3,415.7 C937.3,418.1 935.1,420.2 932.9,421.9 C930.8,423.5 928.5,424.7 926.3,425.5 C924.1,426.3 920.7,426.5 919.5,426.7 C917.0,426.6 909.8,426.6 904.0,426.3 C898.2,426.0 892.0,425.4 885.0,424.8 C878.0,424.2 869.5,423.3 862.0,422.7 C854.5,422.1 843.7,421.3 840.0,421.0 L768.0,415.0 L600.0,400.0 L440.0,386.3 L300.0,374.0 L128.0,359.0 L94.0,355.5 C93.0,354.8 90.0,353.4 88.0,351.5 C86.0,349.6 83.9,347.6 82.0,344.0 C80.1,340.4 77.8,334.8 76.5,330.0 C75.2,325.2 74.6,320.3 74.0,315.0 C73.4,309.7 72.9,303.8 73.0,298.0 C73.1,292.2 73.8,285.7 74.5,280.0 C75.2,274.3 76.2,268.9 77.5,264.0 C78.8,259.1 80.6,254.5 82.5,250.5 C84.4,246.5 86.5,242.9 89.0,240.0 C91.5,237.1 96.1,234.2 97.5,233.0 Z" fill="url(#gw)"/>
<path d="M846.0,216.8 L925.1,215.9 C926.2,216.2 929.5,216.5 931.7,217.4 C933.9,218.3 936.1,219.7 938.2,221.4 C940.3,223.2 942.3,225.4 944.2,227.9 C946.2,230.5 948.0,233.4 949.7,236.7 C951.5,240.0 953.1,243.7 954.6,247.6 C956.1,251.5 957.4,255.8 958.6,260.3 C959.8,264.8 960.9,269.5 961.8,274.5 C962.7,279.4 963.4,284.6 963.9,289.8 C964.5,295.1 964.9,300.5 965.1,305.9 C965.3,311.4 965.3,316.9 965.2,322.4 C965.0,327.9 964.7,333.5 964.2,338.9 C963.7,344.3 963.1,349.7 962.2,354.9 C961.4,360.1 960.4,365.3 959.3,370.1 C958.1,375.0 956.8,379.7 955.4,384.1 C953.9,388.6 952.4,392.8 950.7,396.6 C949.0,400.4 947.2,404.0 945.3,407.2 C943.4,410.4 941.4,413.2 939.3,415.7 C937.3,418.1 935.1,420.2 932.9,421.9 C930.8,423.5 928.5,424.7 926.3,425.5 C924.1,426.3 920.7,426.5 919.5,426.7 C917.0,426.6 909.8,426.6 904.0,426.3 C898.2,426.0 892.0,425.4 885.0,424.8 C878.0,424.2 869.5,423.3 862.0,422.7 C854.5,422.1 843.7,421.3 840.0,421.0 C839.6,418.8 838.8,415.2 837.5,407.5 C836.2,399.8 833.4,385.4 832.0,375.0 C830.6,364.6 829.6,354.8 829.0,345.0 C828.4,335.2 828.2,326.0 828.5,316.0 C828.8,306.0 829.2,295.7 830.5,285.0 C831.8,274.3 833.4,263.4 836.0,252.0 C838.6,240.6 844.3,222.7 846.0,216.8 Z" fill="#a7a9ac"/>
<path d="M97.5,233.0 L175.0,231.3 L280.0,230.8 L384.0,228.4 L440.0,227.0 L640.0,222.2 L696.0,221.3 L768.0,219.8 L860.0,217.5 L925.1,215.9 C926.2,216.2 929.5,216.5 931.7,217.4 C933.9,218.3 936.1,219.7 938.2,221.4 C940.3,223.2 942.3,225.4 944.2,227.9 C946.2,230.5 948.0,233.4 949.7,236.7 C951.5,240.0 953.1,243.7 954.6,247.6 C956.1,251.5 957.4,255.8 958.6,260.3 C959.8,264.8 960.9,269.5 961.8,274.5 C962.7,279.4 963.4,284.6 963.9,289.8 C964.5,295.1 964.9,300.5 965.1,305.9 C965.3,311.4 965.3,316.9 965.2,322.4 C965.0,327.9 964.7,333.5 964.2,338.9 C963.7,344.3 963.1,349.7 962.2,354.9 C961.4,360.1 960.4,365.3 959.3,370.1 C958.1,375.0 956.8,379.7 955.4,384.1 C953.9,388.6 952.4,392.8 950.7,396.6 C949.0,400.4 947.2,404.0 945.3,407.2 C943.4,410.4 941.4,413.2 939.3,415.7 C937.3,418.1 935.1,420.2 932.9,421.9 C930.8,423.5 928.5,424.7 926.3,425.5 C924.1,426.3 920.7,426.5 919.5,426.7 C917.0,426.6 909.8,426.6 904.0,426.3 C898.2,426.0 892.0,425.4 885.0,424.8 C878.0,424.2 869.5,423.3 862.0,422.7 C854.5,422.1 843.7,421.3 840.0,421.0 L768.0,415.0 L600.0,400.0 L440.0,386.3 L300.0,374.0 L128.0,359.0 L94.0,355.5 C93.0,354.8 90.0,353.4 88.0,351.5 C86.0,349.6 83.9,347.6 82.0,344.0 C80.1,340.4 77.8,334.8 76.5,330.0 C75.2,325.2 74.6,320.3 74.0,315.0 C73.4,309.7 72.9,303.8 73.0,298.0 C73.1,292.2 73.8,285.7 74.5,280.0 C75.2,274.3 76.2,268.9 77.5,264.0 C78.8,259.1 80.6,254.5 82.5,250.5 C84.4,246.5 86.5,242.9 89.0,240.0 C91.5,237.1 96.1,234.2 97.5,233.0 Z" fill="none" stroke="#231f20" stroke-width="2.6" stroke-linejoin="round"/>
<path d="M919.5,426.7 C918.4,426.4 915.1,426.1 912.9,425.2 C910.7,424.3 908.5,422.9 906.4,421.2 C904.3,419.4 902.3,417.2 900.4,414.7 C898.4,412.1 896.6,409.2 894.9,405.9 C893.1,402.6 891.5,398.9 890.0,395.0 C888.5,391.1 887.2,386.8 886.0,382.3 C884.8,377.8 883.7,373.1 882.8,368.1 C881.9,363.2 881.2,358.0 880.7,352.8 C880.1,347.5 879.7,342.1 879.5,336.7 C879.3,331.2 879.3,325.7 879.4,320.2 C879.6,314.7 879.9,309.1 880.4,303.7 C880.9,298.3 881.5,292.9 882.4,287.7 C883.2,282.5 884.2,277.3 885.3,272.5 C886.5,267.6 887.8,262.9 889.2,258.5 C890.7,254.0 892.2,249.8 893.9,246.0 C895.6,242.2 897.4,238.6 899.3,235.4 C901.2,232.2 903.2,229.4 905.3,226.9 C907.3,224.5 909.5,222.4 911.7,220.7 C913.8,219.1 916.1,217.9 918.3,217.1 C920.5,216.3 923.9,216.1 925.1,215.9" fill="none" stroke="#231f20" stroke-width="2.8"/>
<path d="M925.1,215.9 C926.2,216.2 929.5,216.5 931.7,217.4 C933.9,218.3 936.1,219.7 938.2,221.4 C940.3,223.2 942.3,225.4 944.2,227.9 C946.2,230.5 948.0,233.4 949.7,236.7 C951.5,240.0 953.1,243.7 954.6,247.6 C956.1,251.5 957.4,255.8 958.6,260.3 C959.8,264.8 960.9,269.5 961.8,274.5 C962.7,279.4 963.4,284.6 963.9,289.8 C964.5,295.1 964.9,300.5 965.1,305.9 C965.3,311.4 965.3,316.9 965.2,322.4 C965.0,327.9 964.7,333.5 964.2,338.9 C963.7,344.3 963.1,349.7 962.2,354.9 C961.4,360.1 960.4,365.3 959.3,370.1 C958.1,375.0 956.8,379.7 955.4,384.1 C953.9,388.6 952.4,392.8 950.7,396.6 C949.0,400.4 947.2,404.0 945.3,407.2 C943.4,410.4 941.4,413.2 939.3,415.7 C937.3,418.1 935.1,420.2 932.9,421.9 C930.8,423.5 928.5,424.7 926.3,425.5 C924.1,426.3 920.7,426.5 919.5,426.7" fill="none" stroke="#231f20" stroke-width="3.6"/>
<!-- lamp dashed -->
<path d="M107,271 L165,271.2" stroke="#231f20" stroke-width="3" stroke-dasharray="4.5,5.5" fill="none"/>
<path d="M228,271.3 L915,272.3" stroke="#231f20" stroke-width="3" stroke-dasharray="7,6.5" fill="none"/>
<path d="M100,326.3 L128,328 L825,362.3 L918,366" stroke="#231f20" stroke-width="3" stroke-dasharray="7,6.5" fill="none"/>
<path d="M104,271 C95,273 88,285 87.5,298 C88,312 91,322 97.5,326" stroke="#231f20" stroke-width="3.4" fill="none"/>
<path d="M940.8,321.3 C940.7,325.2 940.3,329.2 939.8,333.0 C939.4,336.7 938.7,340.5 937.9,343.9 C937.1,347.2 936.1,350.4 935.0,353.2 C934.0,355.9 932.8,358.4 931.5,360.3 C930.3,362.2 928.9,363.7 927.6,364.7 C926.2,365.6 924.8,366.1 923.4,366.1 C922.1,366.0 920.7,365.4 919.4,364.4 C918.1,363.3 916.8,361.7 915.7,359.7 C914.6,357.7 913.6,355.2 912.7,352.4 C911.8,349.6 911.1,346.3 910.5,342.9 C910.0,339.5 909.6,335.7 909.3,331.9 C909.1,328.1 909.1,324.1 909.2,320.1 C909.3,316.2 909.7,312.2 910.2,308.4 C910.6,304.7 911.3,300.9 912.1,297.5 C912.9,294.2 913.9,291.0 915.0,288.2 C916.0,285.5 917.2,283.0 918.5,281.1 C919.7,279.2 921.1,277.7 922.4,276.7 C923.8,275.8 925.2,275.3 926.6,275.3 C927.9,275.4 929.3,276.0 930.6,277.0 C931.9,278.1 933.2,279.7 934.3,281.7 C935.4,283.7 936.4,286.2 937.3,289.0 C938.2,291.8 938.9,295.1 939.5,298.5 C940.0,301.9 940.4,305.7 940.7,309.5 C940.9,313.3 940.9,317.3 940.8,321.3 Z" fill="#fff" stroke="#231f20" stroke-width="3.3"/>
<!-- body outlines -->
<path d="M130.0,143.3 C127.0,143.7 117.2,144.6 112.0,145.5 C106.8,146.4 103.3,146.7 99.0,149.0 C94.7,151.3 90.2,154.7 86.0,159.5 C81.8,164.3 77.8,171.4 74.0,178.0 C70.2,184.6 66.5,192.7 63.5,199.0 C60.5,205.3 58.2,209.2 56.0,216.0 C53.8,222.8 51.5,231.0 50.0,240.0 C48.5,249.0 47.7,260.0 47.0,270.0 C46.3,280.0 46.0,290.0 46.0,300.0 C46.0,310.0 46.2,320.8 47.0,330.0 C47.8,339.2 49.2,346.7 51.0,355.0 C52.8,363.3 55.2,372.3 58.0,380.0 C60.8,387.7 64.3,394.2 68.0,401.0 C71.7,407.8 76.0,415.8 80.0,421.0 C84.0,426.2 87.0,429.2 92.0,432.0 C97.0,434.8 104.0,436.0 110.0,437.5 C116.0,439.0 125.0,440.4 128.0,441.0" fill="none" stroke="#231f20" stroke-width="5.2" stroke-linecap="round"/>
<path d="M74.0,178.0 C72.2,181.5 66.5,192.7 63.5,199.0 C60.5,205.3 58.2,209.2 56.0,216.0 C53.8,222.8 51.5,231.0 50.0,240.0 C48.5,249.0 47.7,260.0 47.0,270.0 C46.3,280.0 46.0,290.0 46.0,300.0 C46.0,310.0 46.2,320.8 47.0,330.0 C47.8,339.2 49.2,346.7 51.0,355.0 C52.8,363.3 55.2,372.3 58.0,380.0 C60.8,387.7 66.3,397.5 68.0,401.0" fill="none" stroke="#231f20" stroke-width="6.6" stroke-linecap="round"/>
<path d="M129,142.6 L188,140.4" stroke="#231f20" stroke-width="4.8" fill="none"/>
<path d="M277.0,136.3 C287.5,135.9 320.3,134.5 340.0,133.6 C359.7,132.7 366.3,132.2 395.0,131.0 C423.7,129.8 471.2,127.9 512.0,126.1 C552.8,124.2 597.3,122.1 640.0,119.9 C682.7,117.7 731.3,115.2 768.0,113.1 C804.7,111.0 831.7,109.3 860.0,107.5 C888.3,105.7 925.0,103.2 938.0,102.3" fill="none" stroke="#231f20" stroke-width="5.2" stroke-linecap="round"/>
<path d="M938.0,102.3 C940.3,103.0 947.3,104.4 952.0,106.5 C956.7,108.6 961.2,110.9 966.0,115.0 C970.8,119.1 976.3,124.7 981.0,131.0 C985.7,137.3 990.5,146.2 994.0,153.0 C997.5,159.8 999.7,165.7 1002.0,172.0 C1004.3,178.3 1006.2,183.8 1008.0,191.0 C1009.8,198.2 1011.5,206.5 1013.0,215.0 C1014.5,223.5 1016.0,232.8 1017.0,242.0 C1018.0,251.2 1018.8,260.7 1019.3,270.0 C1019.8,279.3 1020.1,289.3 1020.3,298.0 C1020.5,306.7 1020.4,314.2 1020.3,322.0 C1020.2,329.8 1020.1,337.0 1019.5,345.0 C1018.9,353.0 1017.9,361.7 1016.5,370.0 C1015.1,378.3 1013.1,387.0 1011.0,395.0 C1008.9,403.0 1006.5,410.5 1004.0,418.0 C1001.5,425.5 999.7,431.3 996.0,440.0 C992.3,448.7 986.7,461.7 982.0,470.0 C977.3,478.3 972.7,484.0 968.0,490.0 C963.3,496.0 958.7,501.4 954.0,506.0 C949.3,510.6 945.7,515.1 940.0,517.5 C934.3,519.9 926.7,520.1 920.0,520.5 C913.3,520.9 905.7,520.3 900.0,520.0 C894.3,519.7 892.3,519.2 886.0,518.5 C879.7,517.8 869.1,516.8 862.0,516.0 C854.9,515.2 846.6,514.3 843.5,514.0" fill="none" stroke="#231f20" stroke-width="6.3" stroke-linecap="round"/>
<path d="M751,504 L128,441.3" stroke="#231f20" stroke-width="5.6" fill="none"/>
<path d="M932.0,106.5 C930.0,107.8 924.0,110.9 920.0,114.0 C916.0,117.1 912.5,120.7 908.0,125.0 C903.5,129.3 898.0,134.6 893.0,140.0 C888.0,145.4 883.5,149.8 878.0,157.5 C872.5,165.2 865.4,176.5 860.0,186.5 C854.6,196.5 849.5,206.6 845.5,217.5 C841.5,228.4 838.5,240.8 836.0,252.0 C833.5,263.2 831.8,274.3 830.5,285.0 C829.2,295.7 828.8,306.0 828.5,316.0 C828.2,326.0 828.4,335.2 829.0,345.0 C829.6,354.8 830.6,364.6 832.0,375.0 C833.4,385.4 835.5,398.0 837.5,407.5 C839.5,417.0 841.5,424.1 844.0,432.0 C846.5,439.9 849.0,447.2 852.5,455.0 C856.0,462.8 860.8,472.0 865.0,479.0 C869.2,486.0 873.7,491.5 877.5,497.0 C881.3,502.5 886.2,509.5 888.0,512.0" fill="none" stroke="#231f20" stroke-width="4.2"/>
<!-- corner blobs -->
<path d="M925,107 L938,100.5 C950,102 966,111 978,129 C967,123.5 952,121.5 941,122 C927,123 911,131 889.5,152 L888,150.5 C899,135 913,116 925,107 Z" fill="#231f20"/>
<path d="M877.5,497 C885,503 900,507 920,512 C930,513 940,513 948,511 L940,519.5 L886,520 L888,512 Z" fill="#231f20"/>
<!-- hidden dashed shapes -->
<path d="M376,380 C380,368 384,345 386,325 L387.5,312.5 L370,314.5 L380,309 L416,280 L441,303 L457.5,314 L441,315.5 L439,342.5 C437,357 433,368 430,377.5" fill="none" stroke="#231f20" stroke-width="3.3" stroke-dasharray="10,5"/>
<path d="M582.5,227.5 C586,240 587.5,250 587.5,262 L586,306 L642.5,306 L642.5,270 C642,255 636,238 627.5,224" fill="none" stroke="#231f20" stroke-width="3.3" stroke-dasharray="10,5"/>
<!-- white arrows -->
<g fill="#fff" stroke="#231f20" stroke-width="3" stroke-linejoin="miter">
<path d="M192,212.8 L250.5,210.3 C260,210.5 268,215 272,222.8 L243,224.3 C242,221.5 244,218.8 247.5,216.8 C240,224 232,241 228,259 C225,272 223,290 223.3,302 C223.5,314 225,325 227,332.5 L235.5,351 L250,353 L208.5,394 L155.5,346 L174,347.5 C168.5,330 165.5,308 166,288 C167,262 176,236 192,212.8 Z"/>
<path d="M295.5,321.8 L354.7,323.7 C355,340 356,356 359,370 C360.5,376 361.5,379.5 362.5,381.5 L424.8,386.5 C422,397 414,407 404,411.5 C399,414 394,415 388,414.7 L336,408 C330,407 325,405.5 321,402 C310,392 300,372 297.3,350 C296,340 295.5,330 295.5,321.8 Z"/>
<path d="M462,296.3 L485.5,294 C487,282 489,272 491,265 C496,248 504,234 513.5,223 C520,215 527,209.5 534,206.3 C540,203.8 546,202.8 552,202.6 L590,202.6 C600,203.2 607,205.5 613,209.5 C619,213.5 623,217.5 626.4,221.7 L575,222.5 C562,238 553,255 548.5,275 L545.2,293.5 L565.5,297.7 L509.8,341 Z"/>
<path d="M630,337 L691,337.5 C688,350 682,370 681,387.5 C681,403 684,418 687.5,430 L707.5,430 L674.5,444 L626,426 L644,424 C638,410 632,390 630.5,370 Z"/>
</g>
<path d="M362.5,381.5 C365,392 370,401 376.5,408.5" fill="none" stroke="#231f20" stroke-width="2.2"/>
<path d="M363.3,381.8 L372.5,382.8 L367.6,391.5 Z" fill="#3d8bd3" stroke="#231f20" stroke-width="1.6"/>
<path d="M575,222.5 C580,216 588,211 597,208.5" fill="none" stroke="#231f20" stroke-width="2.2"/>
<!-- blue arrows -->
<path d="M214.8,121.2 L230.4,121.2 L230.4,144.3 L239.7,144.5 L222.2,165.2 L204.6,144.8 L214.8,144.6 Z" fill="#1b75bc" stroke="#10294a" stroke-width="1.5" stroke-linejoin="round"/>
<path d="M785.2,502.7 L802,502.7 L802,539.3 L812.8,539.5 L793.6,560.8 L773.2,539.6 L785.2,539.4 Z" fill="#1b75bc" stroke="#10294a" stroke-width="1.5" stroke-linejoin="round"/>
<!-- end face arrows -->
<path d="M928.0,263.0 L928.0,236.0" stroke="#231f20" stroke-width="3.6" fill="none"/><path d="M928.0,223.5 L934.2,238.0 L921.8,238.0 Z" fill="#231f20"/><path d="M909.0,285.5 L900.5,268.9" stroke="#231f20" stroke-width="3.6" fill="none"/><path d="M896.0,260.0 L906.4,268.2 L896.6,273.2 Z" fill="#231f20"/><path d="M942.0,288.0 L950.4,271.9" stroke="#231f20" stroke-width="3.6" fill="none"/><path d="M955.0,263.0 L954.3,276.2 L944.6,271.1 Z" fill="#231f20"/><path d="M902.0,321.0 L892.0,321.0" stroke="#231f20" stroke-width="3.6" fill="none"/><path d="M883.0,321.0 L894.0,315.5 L894.0,326.5 Z" fill="#231f20"/><path d="M944.0,320.0 L954.0,320.0" stroke="#231f20" stroke-width="3.6" fill="none"/><path d="M963.0,320.0 L952.0,325.5 L952.0,314.5 Z" fill="#231f20"/><path d="M907.0,366.0 L897.7,383.2" stroke="#231f20" stroke-width="3.6" fill="none"/><path d="M893.0,392.0 L893.8,378.8 L903.5,384.0 Z" fill="#231f20"/><path d="M940.5,356.0 L948.4,371.1" stroke="#231f20" stroke-width="3.6" fill="none"/><path d="M953.0,380.0 L942.6,371.9 L952.3,366.8 Z" fill="#231f20"/><path d="M923.5,380.0 L923.5,408.5" stroke="#231f20" stroke-width="3.6" fill="none"/><path d="M923.5,420.0 L917.3,406.5 L929.7,406.5 Z" fill="#231f20"/>
<!-- lamp star -->
<g stroke="#231f20" stroke-width="3.9" fill="none" stroke-linecap="round">
<path d="M928.2,284.5 L924.5,360"/>
<path d="M915.5,320.8 L935.3,320.8"/>
<path d="M917.2,305 L925.4,320.8 L934.6,305"/>
<path d="M918,341 L925.4,320.8 L932.8,336.5"/>
</g>
<!-- label leader lines -->
<path d="M324.6,98 L324.6,120" stroke="#231f20" stroke-width="1.8"/>
<path d="M324.6,129.6 L319.3,118.6 L329.9,118.6 Z" fill="#231f20"/>
<path d="M395.5,100 L395.5,214" stroke="#231f20" stroke-width="1.4"/>
<path d="M395.5,222.5 L391.5,212 L399.5,212 Z" fill="#231f20"/>
<path d="M464.3,100 L464.3,258" stroke="#231f20" stroke-width="1.4"/>
<path d="M464.3,267 L460.3,256 L468.3,256 Z" fill="#231f20"/>
<g font-family="'Liberation Sans', sans-serif" font-size="15px" fill="#231f20">
<text x="254.0" y="38.8" textLength="126.0" lengthAdjust="spacingAndGlyphs">Внешняя стенка</text><text x="267.0" y="58.8" textLength="99.0" lengthAdjust="spacingAndGlyphs">облучающей</text><text x="287.0" y="78.8" textLength="59.0" lengthAdjust="spacingAndGlyphs">камеры</text><text x="376.0" y="72.8" textLength="82.5" lengthAdjust="spacingAndGlyphs">Кварцевая</text><text x="391.0" y="92.8" textLength="52.5" lengthAdjust="spacingAndGlyphs">трубка</text><text x="472.5" y="103.7" textLength="203.0" lengthAdjust="spacingAndGlyphs">Ультрафиолетовая лампа</text><text x="203.0" y="81.8" textLength="55.0" lengthAdjust="spacingAndGlyphs">Приток</text><text x="211.0" y="101.8" textLength="40.0" lengthAdjust="spacingAndGlyphs">воды</text><text x="770.5" y="595.3" textLength="46.0" lengthAdjust="spacingAndGlyphs">Отток</text><text x="714.0" y="615.3" textLength="158.0" lengthAdjust="spacingAndGlyphs">обработанной воды</text>
</g>
</svg></div></body></html>
